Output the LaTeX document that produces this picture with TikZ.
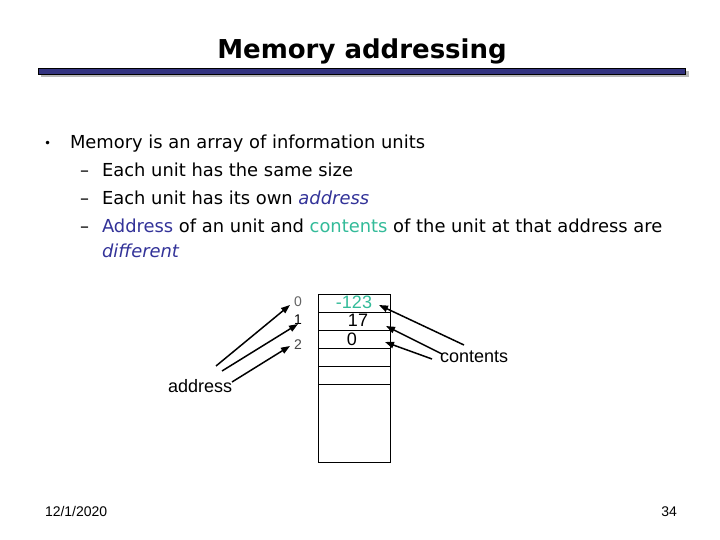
\documentclass[tikz,border=0pt]{standalone}
\usepackage{fontspec}
\setmainfont{DejaVu Sans}
\newfontfamily\arialf{Liberation Sans}
\usetikzlibrary{arrows.meta}
\definecolor{titleblue}{RGB}{51,51,128}
\definecolor{txtblue}{RGB}{51,51,153}
\definecolor{cteal}{RGB}{51,187,153}
\definecolor{lblgray}{RGB}{100,100,100}
\tikzset{
  bodytxt/.style={anchor=base west,font=\fontsize{17.9}{20}\selectfont},
  diagtxt/.style={font=\arialf\fontsize{18}{20}\selectfont},
  idxtxt/.style={font=\arialf\fontsize{14}{15}\selectfont},
  foottxt/.style={font=\arialf\fontsize{14}{15}\selectfont},
  ptr/.style={line width=1.5pt,-{Triangle[length=9pt,width=6.5pt]}},
  cell/.style={draw=black,line width=0.7pt}
}
\begin{document}
\begin{tikzpicture}[x=1pt,y=-1pt,every node/.style={inner sep=0pt,outer sep=0pt}]
\useasboundingbox[fill=white] (0,0) rectangle (720,540);
% title
\node[anchor=base,font=\fontsize{26}{30}\selectfont\bfseries] (title) at (362,59) {Memory addressing};
\fill[gray!55] (41,71) rectangle (689,77);
\draw[fill=titleblue,line width=0.8pt] (38,68) rectangle (685,74);
% bullets
\node[bodytxt,font=\fontsize{12}{14}\selectfont] (b0) at (44,148) {•};
\node[bodytxt] (l1) at (70,149) {Memory is an array of information units};
\node[bodytxt] (d2) at (80,177) {–};
\node[bodytxt] (l2) at (102,177) {Each unit has the same size};
\node[bodytxt] (d3) at (80,205) {–};
\node[bodytxt] (l3) at (102,205) {Each unit has its own \textcolor{txtblue}{\itshape address}};
\node[bodytxt] (d4) at (80,233) {–};
\node[bodytxt] (l4) at (102,233) {\textcolor{txtblue}{Address} of an unit and \textcolor{cteal}{contents} of the unit at that address are};
\node[bodytxt] (l5) at (102,257) {\textcolor{txtblue}{\itshape different}};
% memory array
\draw[cell] (318,294) rectangle (390,462);
\foreach \yy in {312,330,348,366,384} \draw[cell] (318,\yy) -- (390,\yy);
% indices
\node[idxtxt,text=lblgray] (i0) at (298,302) {0};
\node[idxtxt,text=black] (i1) at (298,320) {1};
\node[idxtxt,text=lblgray!70!black] (i2) at (298,345) {2};
% values
\node[diagtxt,text=cteal] (v0) at (354,302) {-123};
\node[diagtxt] (v1) at (358,320) {17};
\node[diagtxt] (v2) at (352,339) {0};
% labels
\node[diagtxt,anchor=base west] (cont) at (440,362) {contents};
\node[diagtxt,anchor=base west] (addr) at (168,392) {address};
% arrow endpoints
\coordinate (as0) at (216,366);
\coordinate (ae0) at (290,305);
\coordinate (as1) at (222,371);
\coordinate (ae1) at (298,324);
\coordinate (as2) at (232,382);
\coordinate (ae2) at (290,346);
\coordinate (cs0) at (464,345);
\coordinate (ce0) at (379,305);
\coordinate (cs1) at (442,354);
\coordinate (ce1) at (386,326);
\coordinate (cs2) at (432,359);
\coordinate (ce2) at (385,342);
\draw[ptr] (as0) -- (ae0);
\draw[ptr] (as1) -- (ae1);
\draw[ptr] (as2) -- (ae2);
\draw[ptr] (cs0) -- (ce0);
\draw[ptr] (cs1) -- (ce1);
\draw[ptr] (cs2) -- (ce2);
% footer
\node[foottxt,anchor=base west] (date) at (45,516) {12/1/2020};
\node[foottxt,anchor=base east] (page) at (677,516) {34};
\end{tikzpicture}
\end{document}
